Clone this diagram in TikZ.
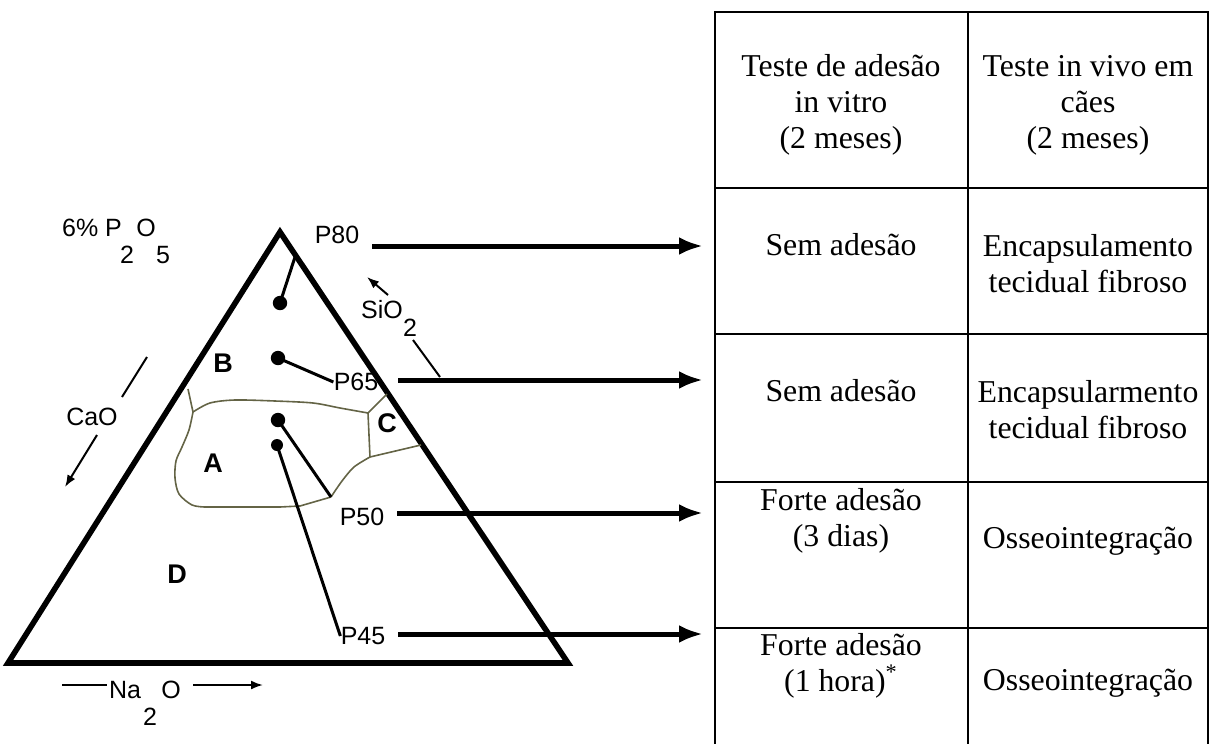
\documentclass[tikz,border=0pt]{standalone}
\usepackage{fontspec}
\setmainfont{Liberation Serif}
\setsansfont{Liberation Sans}
\usepackage{tikz}
\usetikzlibrary{arrows.meta, positioning}
\definecolor{mydark}{RGB}{0,0,0}
\definecolor{myolive}{RGB}{100,100,70}
\tikzset{
  cell/.style={align=center, font=\fontsize{15.9}{18}\selectfont, inner sep=0pt},
  lbl/.style={font=\fontsize{12.5}{14}\sffamily, inner sep=0pt},
  region/.style={font=\fontsize{13.5}{15}\sffamily\bfseries, inner sep=0pt},
  grid/.style={line width=1pt, color=mydark},
  side/.style={line width=2.8pt, color=mydark, line join=miter},
  arrow/.style={-{Latex[length=12pt,width=9pt]}, line width=2.5pt, color=mydark},
  thinarrow/.style={-{Latex[length=6pt,width=4.5pt]}, line width=1pt, color=mydark},
  thinline/.style={line width=1pt, color=mydark},
  leader/.style={line width=1.5pt, color=mydark},
  border/.style={line width=0.8pt, color=myolive},
  dot/.style={circle, fill=mydark, inner sep=0pt, minimum size=7.2pt}
}

\begin{document}
\begin{tikzpicture}[x=0.5pt, y=-0.5pt]
  \useasboundingbox (0,0) rectangle (1210,744);

  % table
  \draw[grid] (715,744) -- (715,12) -- (1208,12) -- (1208,744);
  \draw[grid] (968,12) -- (968,744);
  \foreach \yy in {188,334,482,628}
    \draw[grid] (715,\yy) -- (1208,\yy);

  \node[cell] (hdra) at (841,105) {Teste de adesão\\in vitro\\(2 meses)};
  \node[cell] (hdrb) at (1088,105) {Teste in vivo em\\cães\\(2 meses)};
  \node[cell] (rowa1) at (841,245) {Sem adesão};
  \node[cell] (rowb1) at (1088,264) {Encapsulamento\\tecidual fibroso};
  \node[cell] (rowa2) at (841,391) {Sem adesão};
  \node[cell] (rowb2) at (1088,410) {Encapsularmento\\tecidual fibroso};
  \node[cell] (rowa3) at (841,521) {Forte adesão\\(3 dias)};
  \node[cell] (rowb3) at (1088,541) {Osseointegração};
  \node[cell] (rowa4) at (841,666) {Forte adesão\\(1 hora)\textsuperscript{*}};
  \node[cell] (rowb4) at (1088,683) {Osseointegração};

  % ternary diagram
  \coordinate (top) at (280,232);
  \coordinate (bl) at (8,663);
  \coordinate (br) at (568,663);
  \draw[side] (top) -- (br) -- (bl) -- cycle;

  % regions
  \draw[border] (188,389) -- (193,412)
    plot[smooth] coordinates {(193,412) (210,403) (235,400) (275,401) (313,403) (340,408) (368,413)};
  \draw[border] plot[smooth] coordinates {(193,412) (189,430) (182,447) (176,461) (175,478) (179,494) (192,505) (205,507)}
    -- (280,507) -- (300,506) -- (331,497);
  \draw[border] plot[smooth] coordinates {(331,497) (342,481) (354,467) (370,457)};
  \draw[border] (368,413) -- (370,457);
  \draw[border] (368,413) -- (387,394);
  \draw[border] (370,457) -- (421,445);

  \node[region] (rb) at (223,363) {B};
  \node[region] (ra) at (213,463) {A};
  \node[region] (rc) at (387,423) {C};
  \node[region] (rd) at (177,574) {D};

  % samples
  \node[dot] (s80) at (280,303) {};
  \node[dot] (s65) at (278,358) {};
  \node[dot] (s50) at (278,420) {};
  \node[dot, minimum size=6pt] (s45) at (277,445) {};

  \node[lbl] (p80) at (337,235) {P80};
  \node[lbl] (p65) at (356,382) {P65};
  \node[lbl] (p50) at (362,517) {P50};
  \node[lbl] (p45) at (363,636) {P45};

  \coordinate (k80) at (295,257);
  \coordinate (k50) at (331,497);
  \draw[leader] (s80.center) -- (k80);
  \draw[leader] (s65.center) -- (p65.west);
  \draw[leader] (s50.center) -- (k50);
  \draw[leader] (s45.center) -- (p45.west);

  % arrows to table
  \coordinate (t80) at (372,246);
  \coordinate (t65) at (398,380);
  \coordinate (t50) at (397,513);
  \coordinate (t45) at (398,634);
  \coordinate (e80) at (703,246);
  \coordinate (e65) at (703,380);
  \coordinate (e50) at (703,513);
  \coordinate (e45) at (703,634);
  \draw[arrow] (t80) -- (e80);
  \draw[arrow] (t65) -- (e65);
  \draw[arrow] (t50) -- (e50);
  \draw[arrow] (t45) -- (e45);

  % axis labels
  \node[lbl] (pct) at (92,228) {6\% P};
  \node[lbl] (pctb) at (127,255) {2};
  \node[lbl] (pctc) at (146,228) {O};
  \node[lbl] (pctd) at (163,255) {5};

  \node[lbl] (sio) at (382,310) {SiO};
  \node[lbl] (siob) at (410,328) {2};
  \coordinate (sa) at (388,295);
  \coordinate (sb) at (367,277);
  \coordinate (sc) at (413,340);
  \coordinate (sd) at (440,377);
  \draw[thinarrow] (sa) -- (sb);
  \draw[thinline] (sd) -- (sc);

  \node[lbl] (cao) at (92,417) {CaO};
  \coordinate (ca) at (147,357);
  \coordinate (cb) at (122,397);
  \coordinate (cc) at (97,435);
  \coordinate (cd) at (65,487);
  \draw[thinline] (ca) -- (cb);
  \draw[thinarrow] (cc) -- (cd);

  \node[lbl] (na) at (125,690) {Na};
  \node[lbl] (nab) at (150,717) {2};
  \node[lbl] (nac) at (171,690) {O};
  \coordinate (na1) at (62,685);
  \coordinate (na2) at (107,685);
  \coordinate (na3) at (193,685);
  \coordinate (na4) at (263,685);
  \draw[thinline] (na1) -- (na2);
  \draw[thinarrow] (na3) -- (na4);
\end{tikzpicture}
\end{document}
